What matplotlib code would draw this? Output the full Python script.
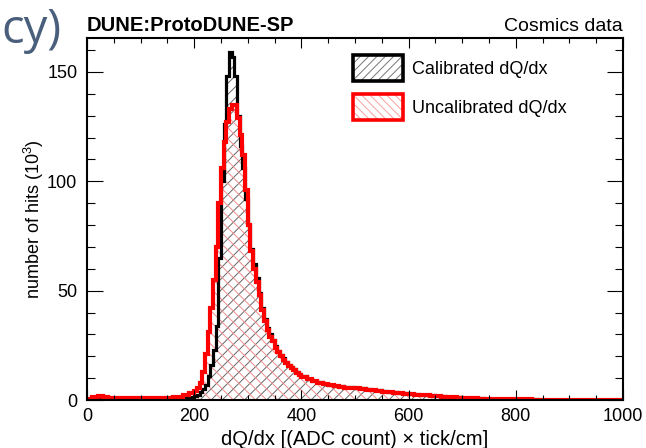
import numpy as np
import matplotlib
matplotlib.use("Agg")
from matplotlib import pyplot as plt
from matplotlib.patches import Patch
from matplotlib.ticker import MultipleLocator

plt.rcParams['font.family'] = 'Liberation Sans'
plt.rcParams['mathtext.fontset'] = 'custom'
plt.rcParams['mathtext.rm'] = 'Liberation Sans'
plt.rcParams['hatch.linewidth'] = 0.7

# bin edges: 10 wide below 200, 5 wide in the peak, 10 wide in the tail
edges = np.concatenate([np.arange(0, 200, 10), np.arange(200, 400, 5), np.arange(400, 1001, 10)])

# uncalibrated dQ/dx (thousands of hits)
uncal_low = [0.3, 1.2, 1.7, 1.4, 1.0, 0.8, 0.7, 0.7, 0.7, 0.7,
             0.7, 0.7, 0.7, 0.7, 0.8, 0.9, 1.2, 1.6, 2.2, 3.0]
uncal_peak = [4.0, 5.5, 8.0, 13, 21, 31, 42, 55, 70, 90,
              106, 118, 127, 133, 135, 135, 129, 121, 112, 96,
              80, 68, 60, 54, 48, 41, 36, 32, 29, 27,
              24, 22, 20, 18.5, 17, 15.5, 14.5, 13.5, 12.5, 11.5]
uncal_tail = [10.5, 9.5, 8.5, 7.8, 7.2, 6.7, 6.3, 6.0, 5.7, 5.5,
              5.3, 5.0, 4.7, 4.4, 4.1, 3.8, 3.6, 3.3, 3.1, 2.9,
              2.7, 2.5, 2.3, 2.1, 1.9, 1.7, 1.5, 1.35, 1.2, 1.05,
              0.95, 0.85, 0.75, 0.65, 0.55, 0.5, 0.45, 0.4, 0.35, 0.3,
              0.28, 0.26, 0.24, 0.22, 0.2, 0.19, 0.18, 0.17, 0.16, 0.15,
              0.14, 0.13, 0.12, 0.11, 0.1, 0.1, 0.09, 0.09, 0.08, 0.08]

# calibrated dQ/dx
cal_low = [0.2, 0.9, 1.3, 1.1, 0.8, 0.6, 0.5, 0.5, 0.5, 0.5,
           0.5, 0.5, 0.5, 0.5, 0.6, 0.6, 0.7, 0.9, 1.1, 1.5]
cal_peak = [2.0, 2.5, 3.5, 5, 7, 11, 16, 23, 34, 65,
            100, 126, 148, 159, 157, 148, 130, 116, 106, 92,
            80, 69, 62, 56, 49, 42, 37, 33, 30, 27.5,
            24.5, 22.5, 20.5, 19, 17.5, 16, 15, 14, 13, 12]
cal_tail = [10.8, 9.8, 8.8, 8.1, 7.5, 7.0, 6.6, 6.3, 6.0, 5.8,
            5.6, 5.3, 5.0, 4.7, 4.4, 4.1, 3.8, 3.5, 3.3, 3.1,
            2.9, 2.7, 2.5, 2.3, 2.1, 1.9, 1.7, 1.5, 1.35, 1.2,
            1.05, 0.95, 0.85, 0.75, 0.65, 0.55, 0.5, 0.45, 0.4, 0.35,
            0.3, 0.28, 0.26, 0.24, 0.22, 0.2, 0.19, 0.18, 0.17, 0.16,
            0.15, 0.14, 0.13, 0.12, 0.11, 0.1, 0.1, 0.09, 0.09, 0.08]

uncal = np.array(uncal_low + uncal_peak + uncal_tail)
cal = np.array(cal_low + cal_peak + cal_tail)

fig = plt.figure(figsize=(6.46, 4.48), dpi=100)
ax = fig.add_axes([0.1347, 0.1071, 0.8297, 0.8081])

# hatched fills
ax.stairs(cal, edges, fill=True, facecolor='none', edgecolor='#666666', hatch='///', linewidth=0)
ax.stairs(uncal, edges, fill=True, facecolor='none', edgecolor='#f28c8c', hatch='\\\\\\', linewidth=0)
# outlines
ax.stairs(cal, edges, color='black', linewidth=2.3)
ax.stairs(uncal, edges, color='red', linewidth=3.0)

ax.set_xlim(0, 1000)
ax.set_ylim(0, 165.5)
ax.xaxis.set_major_locator(MultipleLocator(200))
ax.xaxis.set_minor_locator(MultipleLocator(50))
ax.yaxis.set_major_locator(MultipleLocator(50))
ax.yaxis.set_minor_locator(MultipleLocator(10))
ax.tick_params(axis='x', which='major', direction='in', length=7.2, width=0.8,
               top=True, labelsize=13, pad=6)
ax.tick_params(axis='x', which='minor', direction='in', length=3.6, width=0.8, top=True)
ax.tick_params(axis='y', which='major', direction='in', length=11.5, width=0.8,
               right=True, labelsize=13, pad=7)
ax.tick_params(axis='y', which='minor', direction='in', length=5.8, width=0.8, right=True)
for sp in ax.spines.values():
    sp.set_linewidth(1.5)

ax.set_xlabel('dQ/dx [(ADC count) \u00d7 tick/cm]', fontsize=14.5, labelpad=3)
ax.set_ylabel('number of hits (10$^{3}$)', fontsize=13, labelpad=1)

ax.text(0.0, 1.02, 'DUNE:ProtoDUNE-SP', transform=ax.transAxes, fontsize=14.5,
        fontweight='bold', ha='left', va='baseline')
ax.text(1.0, 1.02, 'Cosmics data', transform=ax.transAxes, fontsize=14,
        ha='right', va='baseline')

# leftover slide title at the top-left corner
fig.text(1 / 646, 1 - 43 / 448, 'cy)', fontsize=34, color='#4a5f7c',
         family='Open Sans', ha='left', va='baseline')

h_cal = (Patch(facecolor='white', edgecolor='#777777', hatch='////', linewidth=0),
         Patch(facecolor='none', edgecolor='black', linewidth=2.6))
h_uncal = (Patch(facecolor='white', edgecolor='#f4a0a0', hatch='\\\\\\\\', linewidth=0),
           Patch(facecolor='none', edgecolor='red', linewidth=2.6))
ax.legend([h_cal, h_uncal], ['Calibrated dQ/dx', 'Uncalibrated dQ/dx'],
          loc='upper left', bbox_to_anchor=(0.496, 0.953), frameon=False,
          fontsize=13, handlelength=2.75, handleheight=1.8, labelspacing=0.75,
          handletextpad=0.5, borderpad=0, borderaxespad=0)

fig.savefig('out.png', dpi=100)
